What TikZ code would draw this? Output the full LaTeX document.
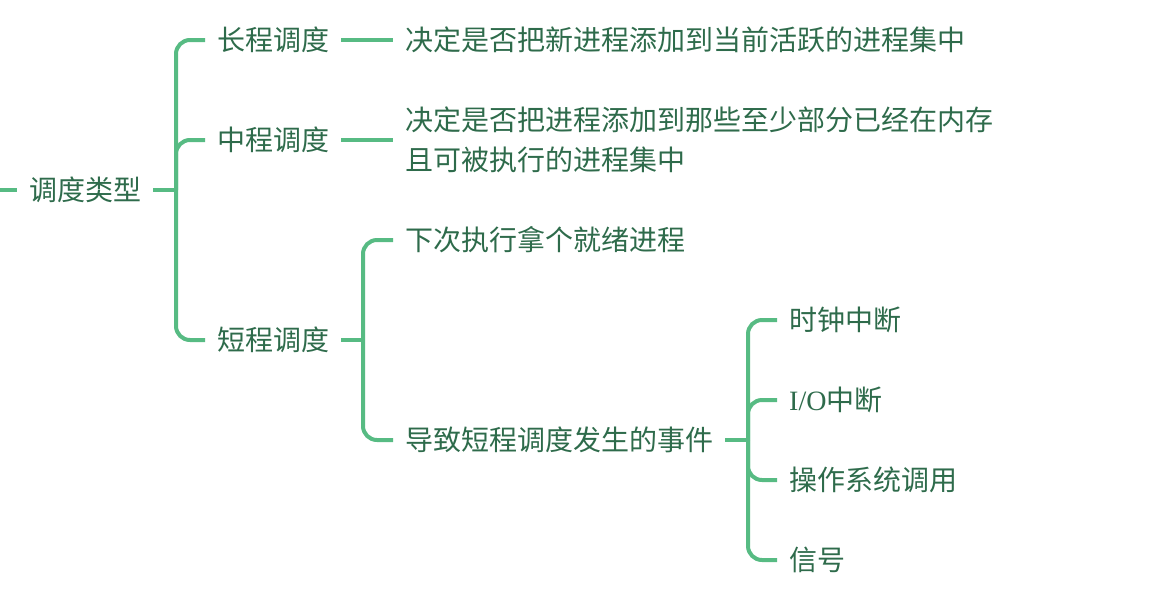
\documentclass[tikz,border=0pt]{standalone}
\usepackage{fontspec}
\setmainfont{Noto Sans CJK SC}
\newfontfamily\latinserif{Liberation Serif}
\definecolor{txt}{HTML}{2E6B4B}
\definecolor{ln}{HTML}{57BB83}
\begin{document}
\begin{tikzpicture}[x=1pt,y=-1pt,
  topic/.style={anchor=west, inner xsep=12pt, inner ysep=0pt, text height=20.7pt, text depth=0pt, font=\fontsize{28}{40}\selectfont, text=txt},
  multitopic/.style={anchor=base west, inner xsep=12pt, inner ysep=0pt, align=left, font=\fontsize{28}{40}\selectfont, text=txt},
  link/.style={draw=ln, line width=4pt},
  branch/.style={link, rounded corners=14pt}]
\useasboundingbox (0,0) rectangle (1158,606);
% nodes
\node[topic] (root) at (17,190) {调度类型};
\node[topic] (long) at (205,40) {长程调度};
\node[topic] (mid) at (205,140) {中程调度};
\node[topic] (short) at (205,340) {短程调度};
\node[topic] (ldesc) at (393,40) {决定是否把新进程添加到当前活跃的进程集中};
\node[multitopic] (mdesc) at (393,170.4) {决定是否把进程添加到那些至少部分已经在内存\\且可被执行的进程集中};
\node[topic] (sa) at (393,240) {下次执行拿个就绪进程};
\node[topic] (sb) at (393,440) {导致短程调度发生的事件};
\node[topic] (c1) at (777,320) {时钟中断};
\node[topic] (c2) at (777,400) {{\latinserif I/O}中断};
\node[topic] (c3) at (777,480) {操作系统调用};
\node[topic] (c4) at (777,560) {信号};
% junctions
\coordinate (start) at (0,190);
\coordinate (j1) at (176,190);
\coordinate (j2) at (363,340);
\coordinate (j3) at (748,440);
% connectors
\draw[link] (start) -- (root.west);
\draw[link] (root.east) -- (j1);
\draw[branch] (j1) |- (long.west);
\draw[branch] (j1) |- (mid.west);
\draw[branch] (j1) |- (short.west);
\draw[link] (long.east) -- (ldesc.west);
\draw[link] (mid.east) -- (mid.east -| mdesc.west);
\draw[link] (short.east) -- (j2);
\draw[branch] (j2) |- (sa.west);
\draw[branch] (j2) |- (sb.west);
\draw[link] (sb.east) -- (j3);
\draw[branch] (j3) |- (c1.west);
\draw[branch] (j3) |- (c2.west);
\draw[branch] (j3) |- (c3.west);
\draw[branch] (j3) |- (c4.west);
\end{tikzpicture}
\end{document}
